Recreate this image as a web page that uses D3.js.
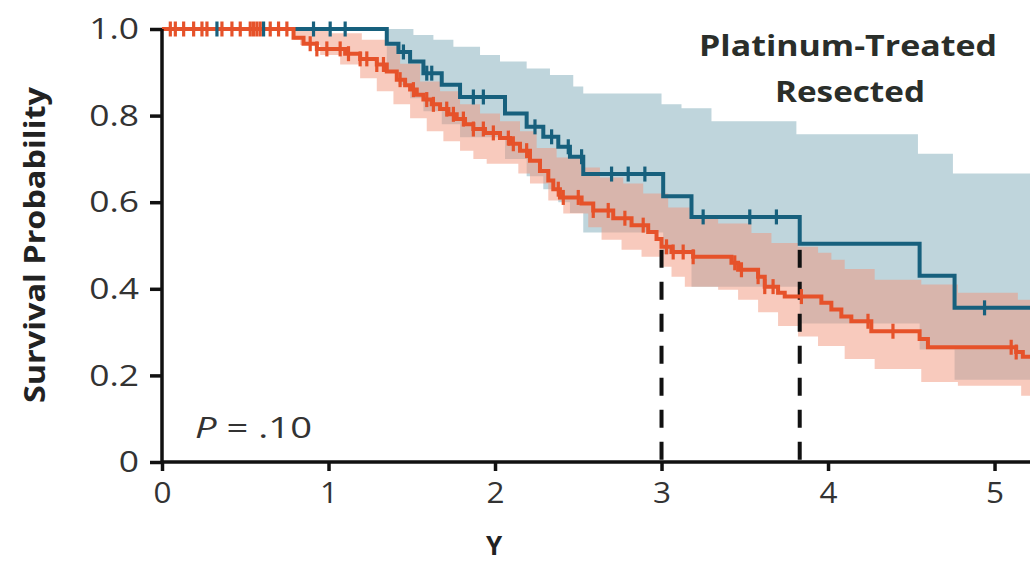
<!DOCTYPE html>
<html>
<head>
<meta charset="utf-8">
<script src="https://cdn.jsdelivr.net/npm/d3@7"></script>
<style>
  body { margin: 0; background: #fff; }
  svg text { font-family: "Open Sans", "Liberation Sans", sans-serif; }
</style>
</head>
<body>
<svg id="chart" width="1030" height="562"></svg>
<script>
// ---- data (time in years, survival probability) ----
// blue group: event times and survival after each step
const blueTimes = [1.35, 1.42, 1.49, 1.57, 1.68, 1.79, 2.06, 2.19, 2.29, 2.38, 2.45, 2.53, 3.01, 3.18, 3.83, 4.55, 4.76];
const blueSurv  = [0.966, 0.947, 0.925, 0.898, 0.871, 0.843, 0.805, 0.774, 0.751, 0.728, 0.705, 0.665, 0.614, 0.566, 0.504, 0.430, 0.356];
const blueCensor = [0.33, 0.61, 0.91, 1.01, 1.10, 1.45, 1.59, 1.62, 1.87, 1.93, 2.24, 2.34, 2.44, 2.52, 2.70, 2.80, 2.90, 3.25, 3.53, 3.69, 4.94];

const blueUpperTimes = [1.35, 1.51, 1.63, 1.75, 1.91, 2.03, 2.19, 2.33, 2.47, 2.53, 3.00, 3.12, 3.30, 3.81, 4.54, 4.75];
const blueUpperVals  = [1.0, 0.986, 0.975, 0.959, 0.940, 0.925, 0.909, 0.894, 0.867, 0.851, 0.826, 0.817, 0.787, 0.757, 0.712, 0.666];
const blueLowerTimes = [1.35, 1.42, 1.49, 1.57, 1.68, 1.79, 2.06, 2.19, 2.29, 2.38, 2.45, 2.53, 3.01, 3.18, 3.83, 4.55, 4.76];
const blueLowerVals  = [0.90, 0.87, 0.84, 0.81, 0.78, 0.75, 0.70, 0.66, 0.63, 0.60, 0.575, 0.53, 0.48, 0.405, 0.32, 0.26, 0.19];

// orange group
const orangeTimes = [0.79, 0.85, 0.93, 1.10, 1.19, 1.29, 1.35, 1.41, 1.46, 1.49, 1.53, 1.57, 1.62, 1.67, 1.72, 1.77, 1.82, 1.87, 1.94, 2.03, 2.09, 2.15, 2.21, 2.27, 2.32, 2.35, 2.39, 2.52, 2.59, 2.71, 2.82, 2.92, 2.97, 3.00, 3.06, 3.19, 3.42, 3.46, 3.58, 3.62, 3.70, 3.74, 3.96, 4.02, 4.08, 4.14, 4.26, 4.55, 4.60, 5.13, 5.17];
const orangeSurv  = [0.980, 0.966, 0.954, 0.943, 0.931, 0.918, 0.902, 0.883, 0.870, 0.860, 0.848, 0.837, 0.826, 0.815, 0.803, 0.792, 0.780, 0.769, 0.760, 0.748, 0.735, 0.719, 0.696, 0.672, 0.650, 0.630, 0.611, 0.597, 0.581, 0.563, 0.547, 0.531, 0.515, 0.497, 0.485, 0.474, 0.460, 0.444, 0.428, 0.405, 0.391, 0.382, 0.368, 0.352, 0.336, 0.325, 0.302, 0.284, 0.265, 0.254, 0.243];
const orangeCensor = [0.05, 0.08, 0.13, 0.19, 0.24, 0.27, 0.36, 0.42, 0.47, 0.53, 0.55, 0.57, 0.59, 0.65, 0.70, 0.75, 0.89, 0.93, 0.99, 1.07, 1.12, 1.19, 1.23, 1.29, 1.33, 1.43, 1.51, 1.59, 1.63, 1.71, 1.75, 1.81, 1.87, 1.93, 1.99, 2.08, 2.11, 2.19, 2.38, 2.41, 2.50, 2.59, 2.68, 2.78, 2.89, 3.03, 3.07, 3.13, 3.19, 3.44, 3.48, 3.58, 3.62, 3.67, 3.84, 4.24, 4.39, 5.10, 5.13];

const orangeUpperTimes = [0.79, 1.00, 1.20, 1.35, 1.43, 1.55, 1.67, 1.79, 1.91, 2.03, 2.15, 2.25, 2.37, 2.52, 2.63, 2.77, 2.89, 3.04, 3.17, 3.34, 3.54, 3.66, 3.82, 3.94, 4.02, 4.10, 4.28, 4.56, 4.78, 5.14];
const orangeUpperVals  = [1.0, 0.99, 0.975, 0.96, 0.92, 0.879, 0.856, 0.826, 0.805, 0.787, 0.764, 0.725, 0.703, 0.680, 0.657, 0.643, 0.620, 0.588, 0.565, 0.551, 0.529, 0.506, 0.497, 0.483, 0.467, 0.446, 0.421, 0.410, 0.391, 0.375];
const orangeLowerTimes = [0.79, 0.83, 0.95, 1.07, 1.19, 1.29, 1.39, 1.49, 1.59, 1.69, 1.79, 1.87, 1.95, 2.03, 2.14, 2.21, 2.32, 2.41, 2.56, 2.64, 2.76, 2.88, 3.00, 3.06, 3.14, 3.34, 3.46, 3.58, 3.70, 3.82, 3.94, 4.10, 4.28, 4.56, 4.78, 5.16];
const orangeLowerVals  = [0.975, 0.963, 0.94, 0.918, 0.886, 0.856, 0.826, 0.794, 0.764, 0.741, 0.719, 0.70, 0.689, 0.689, 0.666, 0.643, 0.604, 0.574, 0.542, 0.513, 0.49, 0.474, 0.451, 0.428, 0.405, 0.398, 0.375, 0.346, 0.314, 0.29, 0.268, 0.238, 0.215, 0.185, 0.176, 0.153];

// median lines
const medianTimes = [3.0, 3.83];

const yTicks = [0, 0.2, 0.4, 0.6, 0.8, 1.0];
const xTicks = [0, 1, 2, 3, 4, 5];

// ---- layout ----
const svg = d3.select("#chart");
const margin = {left: 162, right: 1030, top: 29, bottom: 462};
const xMax = 5.213;

let xScale = d3.scaleLinear().domain([0, xMax]).range([margin.left, margin.right]);
let yScale = d3.scaleLinear().domain([0, 1]).range([margin.bottom, margin.top]);

const blueLine = "#17607d", blueBand = "#bfd5dc";
const orangeLine = "#e6522a", orangeBand = "#f2967c";

// step lookup: value at time t for a step function starting at `start`
function stepAt(times, vals, t, start)
{
    let v = start;
    for (let i = 0; i < times.length; i++) {
        if (times[i] <= t) v = vals[i];
    }
    return v;
}

function curvePoints(times, surv)
{
    let pts = [{t: 0, s: 1}];
    times.forEach((t, i) => pts.push({t: t, s: surv[i]}));
    pts.push({t: xMax, s: surv[surv.length - 1]});
    return pts;
}

function bandPoints(upT, upV, loT, loV)
{
    let all = Array.from(new Set(upT.concat(loT))).sort((a, b) => a - b);
    all.push(xMax);
    return all.map(t => ({
        t: t,
        hi: stepAt(upT, upV, t, 1),
        lo: stepAt(loT, loV, t, 1)
    }));
}

// widen a text a little, the reference font runs wider than Open Sans
function widen(sel, factor)
{
    sel.each(function() {
        let w = this.getComputedTextLength();
        d3.select(this)
            .attr("textLength", w * factor)
            .attr("lengthAdjust", "spacingAndGlyphs");
    });
}

let area = d3.area()
    .curve(d3.curveStepAfter)
    .x(d => xScale(d.t))
    .y0(d => yScale(d.lo))
    .y1(d => yScale(d.hi));

let line = d3.line()
    .curve(d3.curveStepAfter)
    .x(d => xScale(d.t))
    .y(d => yScale(d.s));

// bands
svg.append("path")
    .datum(bandPoints(blueUpperTimes, blueUpperVals, blueLowerTimes, blueLowerVals))
    .attr("d", area)
    .attr("fill", blueBand);

svg.append("path")
    .datum(bandPoints(orangeUpperTimes, orangeUpperVals, orangeLowerTimes, orangeLowerVals))
    .attr("d", area)
    .attr("fill", orangeBand)
    .attr("fill-opacity", 0.5);

// median dashed lines
svg.selectAll(".median")
    .data(medianTimes)
    .enter()
    .append("line")
    .attr("class", "median")
    .attr("x1", d => xScale(d))
    .attr("x2", d => xScale(d))
    .attr("y1", yScale(0.49))
    .attr("y2", yScale(0))
    .attr("stroke", "#111")
    .attr("stroke-width", 4)
    .attr("stroke-dasharray", "18,14");

// curves
svg.append("path")
    .datum(curvePoints(blueTimes, blueSurv))
    .attr("d", line)
    .attr("fill", "none")
    .attr("stroke", blueLine)
    .attr("stroke-width", 4);

svg.append("path")
    .datum(curvePoints(orangeTimes, orangeSurv))
    .attr("d", line)
    .attr("fill", "none")
    .attr("stroke", orangeLine)
    .attr("stroke-width", 4);

// censor marks
function drawCensor(times, evT, evS, color)
{
    svg.selectAll(null)
        .data(times)
        .enter()
        .append("line")
        .attr("x1", d => xScale(d))
        .attr("x2", d => xScale(d))
        .attr("y1", d => yScale(stepAt(evT, evS, d, 1)) - 7.5)
        .attr("y2", d => yScale(stepAt(evT, evS, d, 1)) + 7.5)
        .attr("stroke", color)
        .attr("stroke-width", 3.2);
}
drawCensor(orangeCensor, orangeTimes, orangeSurv, orangeLine);
drawCensor(blueCensor, blueTimes, blueSurv, blueLine);

// axes
let yAxis = d3.axisLeft(yScale)
    .tickValues(yTicks)
    .tickSize(12)
    .tickPadding(11)
    .tickFormat(d => d === 0 ? "0" : d3.format(".1f")(d));

let xAxis = d3.axisBottom(xScale)
    .tickValues(xTicks)
    .tickSize(9)
    .tickPadding(11)
    .tickFormat(d3.format("d"));

let gy = svg.append("g")
    .attr("transform", "translate(" + margin.left + ",0)")
    .call(yAxis);

let gx = svg.append("g")
    .attr("transform", "translate(0," + margin.bottom + ")")
    .call(xAxis);

[gx, gy].forEach(g => {
    g.select(".domain").attr("stroke", "#111").attr("stroke-width", 3.5);
    g.selectAll(".tick line").attr("stroke", "#111").attr("stroke-width", 3.5);
    g.selectAll(".tick text")
        .style("font-family", "'Open Sans', sans-serif")
        .style("font-size", "30px")
        .attr("fill", "#333");
});
widen(gy.selectAll(".tick text"), 1.18);
widen(gx.selectAll(".tick text"), 1.05);
gx.select(".domain").attr("d", "M" + margin.left + ",0H" + margin.right);
gy.select(".domain").attr("d", "M0," + yScale(1) + "V" + margin.bottom);

// axis titles
svg.append("text")
    .attr("x", 494)
    .attr("y", 555)
    .style("text-anchor", "middle")
    .style("font-weight", "bold")
    .style("font-size", "26px")
    .attr("fill", "#222")
    .text("Y");

svg.append("text")
    .attr("transform", "translate(45,245) rotate(-90)")
    .style("text-anchor", "middle")
    .style("font-weight", "bold")
    .style("font-size", "28px")
    .attr("fill", "#222")
    .attr("textLength", 316)
    .attr("lengthAdjust", "spacingAndGlyphs")
    .text("Survival Probability");

// group label
svg.append("text")
    .attr("x", 848)
    .attr("y", 56)
    .style("text-anchor", "middle")
    .style("font-weight", "bold")
    .style("font-size", "29px")
    .attr("fill", "#2a2e2a")
    .attr("textLength", 298)
    .attr("lengthAdjust", "spacingAndGlyphs")
    .text("Platinum-Treated");

svg.append("text")
    .attr("x", 850)
    .attr("y", 102)
    .style("text-anchor", "middle")
    .style("font-weight", "bold")
    .style("font-size", "29px")
    .attr("fill", "#2a2e2a")
    .attr("textLength", 150)
    .attr("lengthAdjust", "spacingAndGlyphs")
    .text("Resected");

// p-value
let pText = svg.append("text")
    .attr("x", 195)
    .attr("y", 438)
    .style("font-size", "30px")
    .attr("fill", "#333");
pText.append("tspan").style("font-style", "italic").text("P");
pText.append("tspan").text(" = .10");
pText.attr("textLength", 117).attr("lengthAdjust", "spacingAndGlyphs");
</script>
</body>
</html>
